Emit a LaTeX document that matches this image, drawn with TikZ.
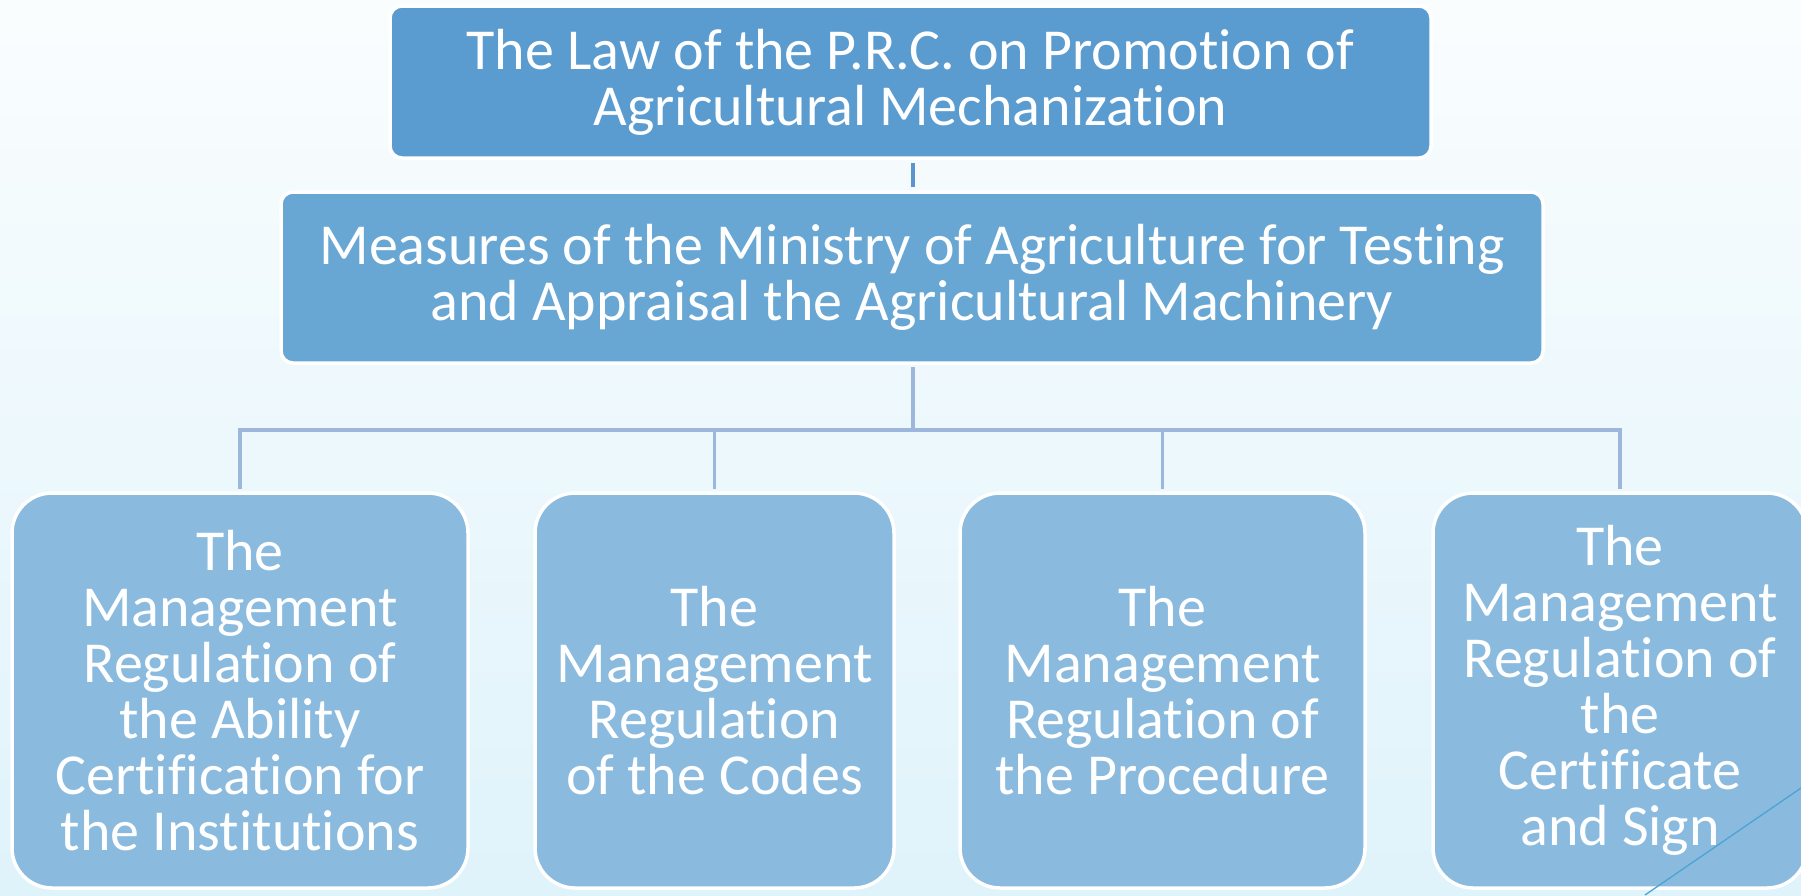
\documentclass[tikz,border=0pt]{standalone}
\usepackage{fontspec}
\setmainfont{Carlito}[Ligatures={NoCommon}]
\usetikzlibrary{calc}
\definecolor{bgtop}{HTML}{FAFDFE}
\definecolor{bgbot}{HTML}{DFF3FB}
\definecolor{lawfill}{HTML}{5A9BD0}
\definecolor{measfill}{HTML}{68A6D4}
\definecolor{regfill}{HTML}{8ABBDF}
\definecolor{linkcol}{HTML}{9DB6DC}
\definecolor{toplink}{HTML}{5B95CD}
\definecolor{decocol}{HTML}{4BA3D6}
\tikzset{
  box/.style={rectangle, draw=white, line width=3.5pt, text=white, align=center,
    inner sep=0pt, font=\fontsize{58}{56}\selectfont},
  topbox/.style={box, rounded corners=12pt},
  regbox/.style={box, fill=regfill, rounded corners=40pt, minimum height=395pt},
  link/.style={draw=linkcol, line width=3.5pt}
}
\begin{document}
\begin{tikzpicture}[x=1pt,y=-1pt]
\useasboundingbox (0,0) rectangle (1801,895);
\clip (0,0) rectangle (1801,895);
\shade[top color=bgtop, bottom color=bgbot] (0,0) rectangle (1801,895);

\node[topbox, fill=lawfill, minimum width=1041pt, minimum height=152pt] (law) at (910.5,82)
  {The Law of the P.R.C. on Promotion of\\Agricultural Mechanization};
\node[topbox, fill=measfill, minimum width=1262pt, minimum height=171pt] (meas) at (912,277.5)
  {Measures of the Ministry of Agriculture for Testing\\and Appraisal the Agricultural Machinery};

\node[regbox, minimum width=456pt] (b1) at (240,690.5)
  {The\\Management\\Regulation of\\the Ability\\Certification for\\the Institutions};
\node[regbox, minimum width=359pt] (b2) at (714.5,690.5)
  {The\\Management\\Regulation\\of the Codes};
\node[regbox, minimum width=405pt] (b3) at (1162.5,690.5)
  {The\\Management\\Regulation of\\the Procedure};
\node[regbox, minimum width=374pt] (b4) at (1620,690.5)
  {The\\Management\\Regulation of\\the\\Certificate\\and Sign};

\coordinate (bus) at (913,430);
\coordinate (up) at ($(meas.north)+(1,0)$);
\draw[link, draw=toplink, shorten <=3pt, shorten >=3pt] (up) -- (up |- law.south);
\draw[link, shorten <=2pt] ($(meas.south)+(1,0)$) -- (bus);
\draw[link, shorten <=2pt, shorten >=2pt] (b1.north) -- (b1.north |- bus) -| (b4.north);
\draw[link, shorten <=2pt] (b2.north) -- (b2.north |- bus);
\draw[link, shorten <=2pt] (b3.north) -- (b3.north |- bus);

\coordinate (d1) at (1645,895);
\coordinate (d2) at (1801,788);
\draw[decocol, line width=1.3pt] (d1) -- (d2);
\end{tikzpicture}
\end{document}
